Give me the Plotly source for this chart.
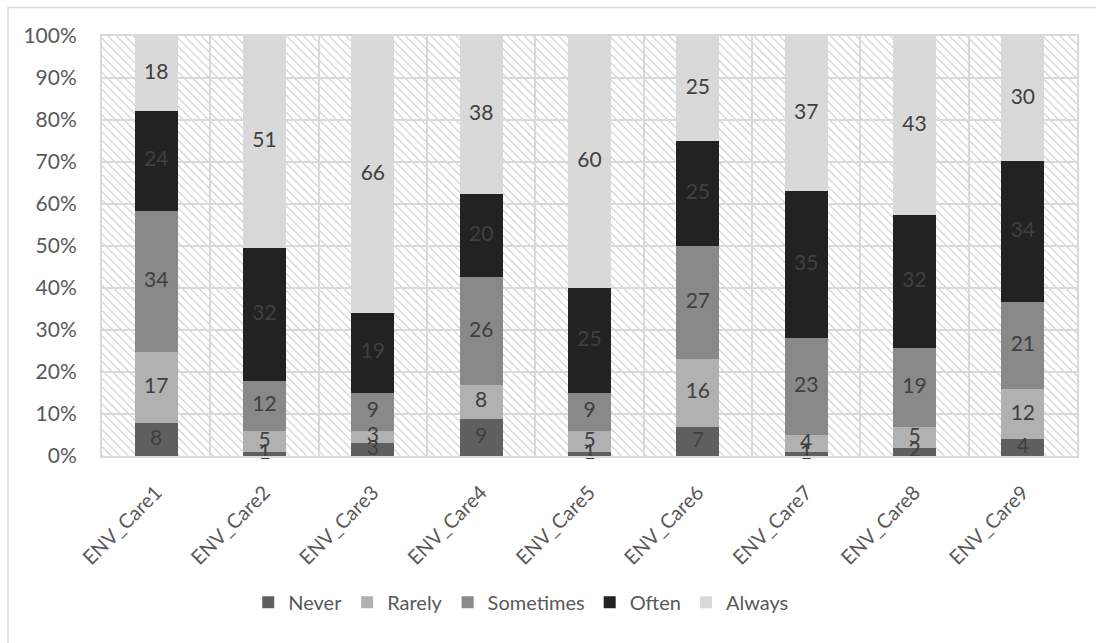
import plotly.graph_objects as go

# Survey items and response counts per frequency level
categories = ["ENV_Care1", "ENV_Care2", "ENV_Care3", "ENV_Care4", "ENV_Care5",
              "ENV_Care6", "ENV_Care7", "ENV_Care8", "ENV_Care9"]
never = [8, 1, 3, 9, 1, 7, 1, 2, 4]
rarely = [17, 5, 3, 8, 5, 16, 4, 5, 12]
sometimes = [34, 12, 9, 26, 9, 27, 23, 19, 21]
often = [24, 32, 19, 20, 25, 25, 35, 32, 34]
always = [18, 51, 66, 38, 60, 25, 37, 43, 30]

series = [
    ("Never", never, "#5f5f5f"),
    ("Rarely", rarely, "#b1b1b1"),
    ("Sometimes", sometimes, "#898989"),
    ("Often", often, "#222222"),
    ("Always", always, "#d9d9d9"),
]

FONT = "Lato, 'Liberation Sans', sans-serif"
TEXT_COLOR = "#595959"
GRID = "#d9d9d9"

W, H = 1096, 643
ML, MR, MT, MB = 102, 19, 36, 187
PW, PH = W - ML - MR, H - MT - MB

fig = go.Figure()
for name, vals, color in series:
    fig.add_trace(go.Bar(
        name=name, x=categories, y=vals, marker_color=color,
        marker_line_width=0, hoverinfo="skip",
    ))

# Count labels centred on each stacked segment (positions in percent of row total)
totals = [sum(s[1][i] for s in series) for i in range(len(categories))]
lab_x, lab_y, lab_t = [], [], []
base = [0.0] * len(categories)
for _, vals, _ in series:
    for i, v in enumerate(vals):
        lab_x.append(categories[i])
        lab_y.append((base[i] + v / 2) / totals[i] * 100)
        lab_t.append(str(v))
        base[i] += v
fig.add_trace(go.Scatter(
    x=lab_x, y=lab_y, text=lab_t, mode="text", cliponaxis=False,
    textfont=dict(family=FONT, size=21, color="#404040"),
    showlegend=False, hoverinfo="skip",
))

# Diagonal hatch behind the plot area, built as one path in paper units
step = 8.5
segs = []
c = -PW
while c < PH:
    x0 = max(0.0, -c)
    x1 = min(PW, PH - c)
    if x1 > x0:
        segs.append("M%.5f,%.5f L%.5f,%.5f" % (
            x0 / PW, 1 - (x0 + c) / PH, x1 / PW, 1 - (x1 + c) / PH))
    c += step
hatch_path = " ".join(segs)

shapes = [
    dict(type="path", path=hatch_path, xref="paper", yref="paper",
         line=dict(color="#d6d6d6", width=1.3), layer="below"),
    # outer chart frame
    dict(type="rect", xref="paper", yref="paper",
         x0=(8 - ML) / PW, x1=(W + 10 - ML) / PW,
         y0=(PH + MT - (H + 10)) / PH, y1=(PH + MT - 7.5) / PH,
         line=dict(color=GRID, width=1.5), fillcolor="rgba(0,0,0,0)",
         layer="below"),
]

fig.update_layout(
    width=W, height=H,
    margin=dict(l=ML, r=MR, t=MT, b=MB, pad=0),
    barmode="stack", barnorm="percent", bargap=0.603,
    plot_bgcolor="white", paper_bgcolor="white",
    font=dict(family=FONT, size=20, color=TEXT_COLOR),
    shapes=shapes,
    showlegend=True,
    legend=dict(orientation="h", x=0.43, xanchor="center",
                y=-0.348, yanchor="middle",
                font=dict(family=FONT, size=20, color=TEXT_COLOR),
                itemwidth=30, traceorder="normal"),
)
fig.update_xaxes(
    type="category", tickson="boundaries", showgrid=True,
    gridcolor=GRID, gridwidth=2, tickangle=-45,
    ticks="", ticklabelstandoff=15,
    showline=True, linecolor=GRID, linewidth=2, mirror=True,
    tickfont=dict(family=FONT, size=20, color=TEXT_COLOR),
)
fig.update_yaxes(
    range=[0, 100], dtick=10, ticksuffix="%",
    showgrid=True, gridcolor=GRID, gridwidth=2, zeroline=False,
    ticks="", ticklabelstandoff=19,
    showline=True, linecolor=GRID, linewidth=2, mirror=True,
    tickfont=dict(family=FONT, size=21, color=TEXT_COLOR),
)

fig.write_html("out.html")
